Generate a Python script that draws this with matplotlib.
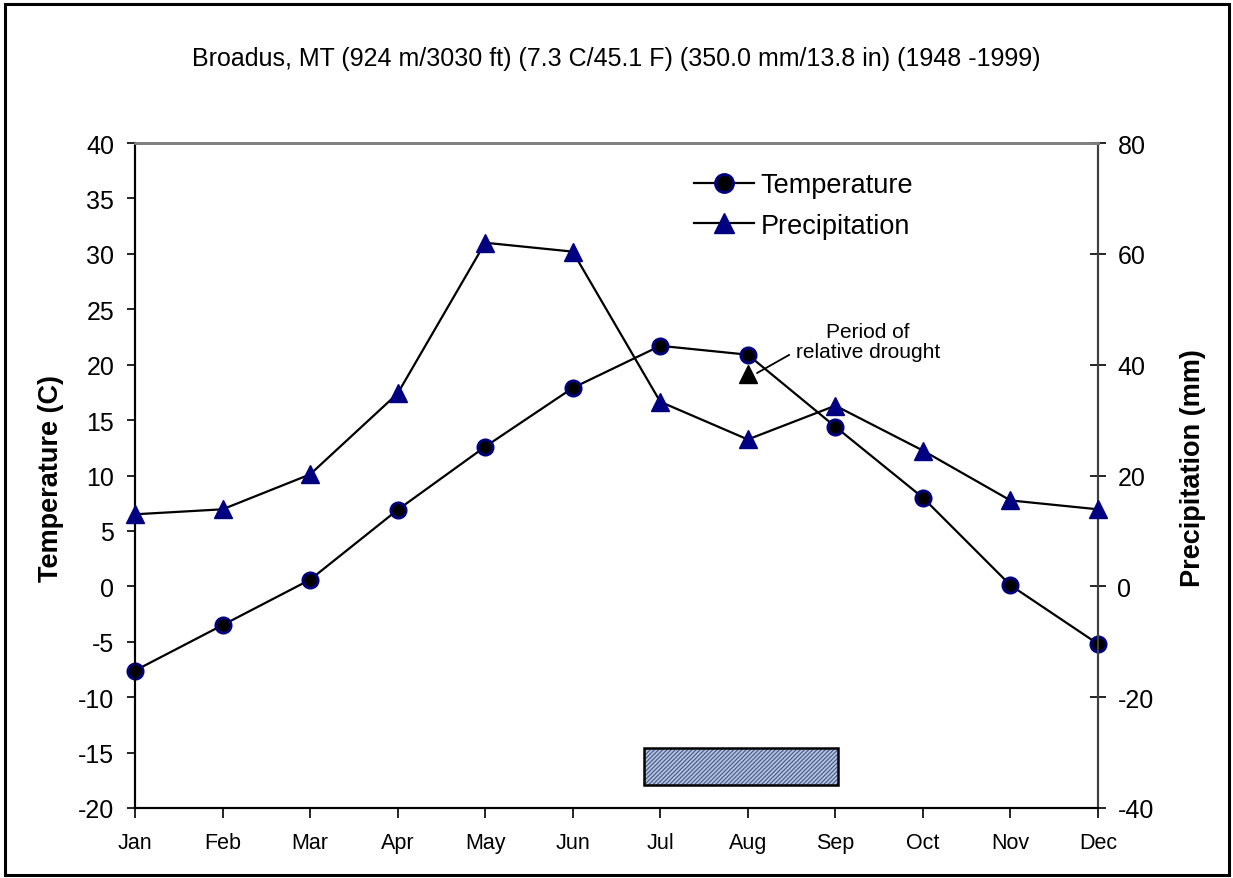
import matplotlib.pyplot as plt
from matplotlib.patches import Rectangle
from matplotlib.lines import Line2D

plt.rcParams['font.family'] = ['Liberation Sans', 'DejaVu Sans']
plt.rcParams['axes.unicode_minus'] = False
plt.rcParams['hatch.linewidth'] = 0.8

# monthly normals
months = ['Jan', 'Feb', 'Mar', 'Apr', 'May', 'Jun',
          'Jul', 'Aug', 'Sep', 'Oct', 'Nov', 'Dec']
temp_c = [-7.6, -3.5, 0.6, 6.9, 12.6, 17.9, 21.7, 20.9, 14.4, 8.0, 0.1, -5.2]
precip_mm = [13.0, 13.9, 20.2, 34.8, 62.0, 60.4, 33.3, 26.5, 32.6, 24.5, 15.5, 13.9]

drought_start, drought_end = 5.81, 8.03   # month index
drought_marker = (7, 19.2)                # Aug, temperature axis

navy = '#000080'
x = list(range(len(months)))

fig = plt.figure(figsize=(12.33, 8.79), dpi=100)
ax = fig.add_axes([135 / 1233, 1 - 809 / 879, (1098 - 135) / 1233, (809 - 144) / 879])
ax2 = ax.twinx()

ax.plot(x, temp_c, color='k', lw=1.6, marker='o', ms=11,
        mfc='k', mec=navy, mew=2, zorder=3, clip_on=False)
ax2.plot(x, precip_mm, color='k', lw=1.6, marker='^', ms=13,
         mfc=navy, mec=navy, zorder=3, clip_on=False)

# drought bar and marker
ax.add_patch(Rectangle((drought_start, -17.9), drought_end - drought_start, 3.3,
                       facecolor='#b4c2dc', edgecolor='#44578a', hatch='////////',
                       lw=0, zorder=2))
ax.add_patch(Rectangle((drought_start, -17.9), drought_end - drought_start, 3.3,
                       facecolor='none', edgecolor='k', lw=1.8, zorder=2))
ax.plot(*drought_marker, marker='^', ms=13, color='k', zorder=4)
ax.annotate('Period of\nrelative drought', xy=(7.05, 19.0), xytext=(8.37, 22.1),
            ha='center', va='center', fontsize=15, linespacing=1.1,
            arrowprops=dict(arrowstyle='-', color='k', lw=1.3, shrinkA=3, shrinkB=4,
                            relpos=(0, 0.25)))

ax.set_xlim(0, 11)
ax.set_ylim(-20, 40)
ax.set_yticks(range(-20, 41, 5))
ax2.set_ylim(-40, 80)
ax2.set_yticks(range(-40, 81, 20))
ax.set_xticks(x)
ax.set_xticklabels(months, fontsize=15.5)
ax.tick_params(axis='y', labelsize=18, direction='out', length=6, width=1.2, pad=9)
ax.tick_params(axis='x', direction='out', length=7, width=1.2, pad=10)
ax2.tick_params(axis='y', labelsize=18, direction='inout', length=12, width=1.2, pad=8)

for a in (ax, ax2):
    a.spines['top'].set_color('#808080')
    a.spines['top'].set_linewidth(2)
    a.spines['right'].set_color('#404040')
    a.spines['right'].set_linewidth(1.5)
    a.spines['left'].set_linewidth(1.5)
    a.spines['bottom'].set_linewidth(1.5)

ax.set_ylabel('Temperature (C)', fontsize=19.5, fontweight='bold')
ax.yaxis.set_label_coords((64 - 135) / 963, (809 - 478) / 665)
ax2.set_ylabel('Precipitation (mm)', fontsize=19.5, fontweight='bold')
ax2.yaxis.set_label_coords((1180 - 135) / 963, (809 - 468) / 665)

fig.text(0.5, 1 - 59 / 879,
         'Broadus, MT (924 m/3030 ft) (7.3 C/45.1 F) (350.0 mm/13.8 in) (1948 -1999)',
         ha='center', va='center', fontsize=18)

handles = [Line2D([], [], color='k', lw=1.6, marker='o', ms=13, mfc='k', mec=navy, mew=2),
           Line2D([], [], color='k', lw=1.6, marker='^', ms=15, mfc=navy, mec=navy)]
ax2.legend(handles, ['Temperature', 'Precipitation'], loc='upper left',
           bbox_to_anchor=((694 - 135) / 963, 1 - (173 - 144) / 665),
           frameon=False, fontsize=19.5, handlelength=2.2, handletextpad=0.25,
           labelspacing=0.55, borderpad=0, borderaxespad=0)

# border round the whole picture
fig.patches.append(Rectangle((5 / 1233, 3 / 879), 1 - 9 / 1233, 1 - 8 / 879,
                             transform=fig.transFigure, fill=False,
                             edgecolor='k', lw=2.2))

fig.savefig('out.png', dpi=100)
